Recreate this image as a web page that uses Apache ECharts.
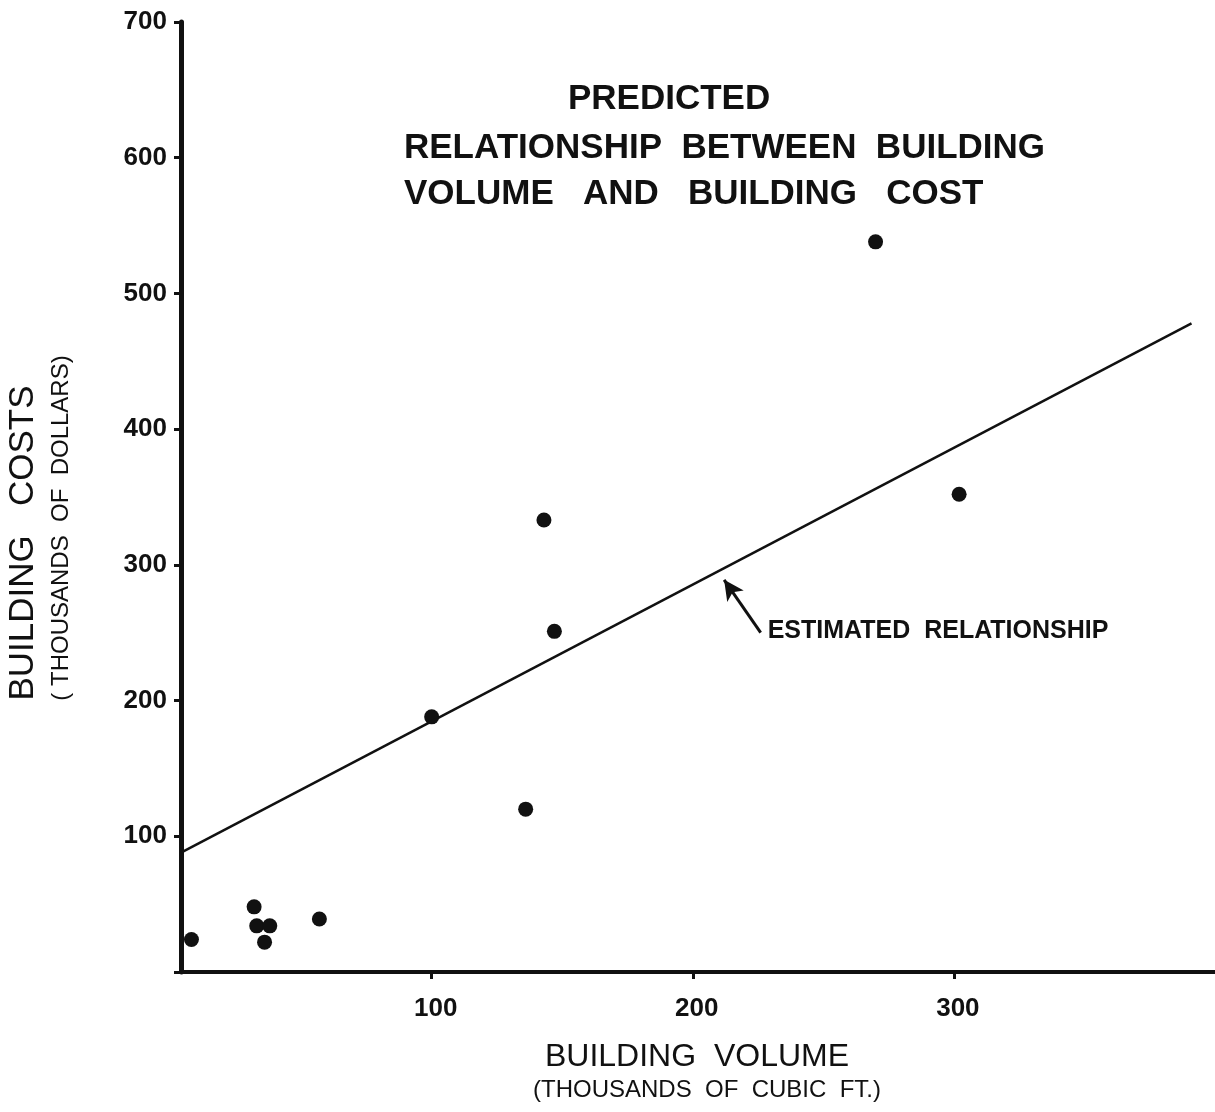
<!DOCTYPE html>
<html>
<head>
<meta charset="utf-8">
<script src="https://cdn.jsdelivr.net/npm/echarts@6/dist/echarts.min.js"></script>
<style>
html, body { margin: 0; padding: 0; background: #fff; }
#chart { width: 1215px; height: 1112px; }
</style>
</head>
<body>
<div id="chart"></div>
<script>
// building volume (thousands of cubic ft) vs building cost (thousands of dollars)
const volumes = [8, 32, 33, 36, 38, 57, 100, 136, 143, 147, 270, 302]
const costs = [24, 48, 34, 22, 34, 39, 188, 120, 333, 251, 538, 352]
// estimated relationship, end points
const fitX = [4, 391]
const fitY = [88, 478]
const xTicks = [100, 200, 300]
const yMin = 0, yMax = 700, yStep = 100
// where the arrow for the label points from / to (data units)
const arrowFrom = [226, 250]
const arrowTo = [212, 289]

const ink = '#111'
const font = 'Liberation Sans'

const points = volumes.map((v, i) => [v, costs[i]])
const fitLine = fitX.map((v, i) => [v, fitY[i]])

const myChart = echarts.init(document.getElementById('chart'))

const option = {
    backgroundColor: '#fff',
    animation: false,
    grid: { left: 181, right: 0, top: 22, bottom: 140 },
    xAxis: {
        type: 'value',
        min: 4,
        max: 400,
        axisLine: { lineStyle: { color: ink, width: 4 } },
        axisTick: { customValues: xTicks, length: 7, lineStyle: { color: ink, width: 3 } },
        axisLabel: {
            customValues: xTicks,
            margin: 24,
            padding: [0, 0, 0, 8],
            color: ink,
            fontFamily: font,
            fontWeight: 'bold',
            fontSize: 26,
        },
        splitLine: { show: false },
    },
    yAxis: {
        type: 'value',
        min: yMin,
        max: yMax,
        interval: yStep,
        axisLine: { show: true, lineStyle: { color: ink, width: 5 } },
        axisTick: { length: 7, lineStyle: { color: ink, width: 3 } },
        axisLabel: {
            margin: 14,
            color: ink,
            fontFamily: font,
            fontWeight: 'bold',
            fontSize: 26,
            formatter: (v) => (v === 0 ? '' : String(v)),
        },
        splitLine: { show: false },
    },
    series: [
        {
            type: 'line',
            data: fitLine,
            symbol: 'none',
            lineStyle: { color: ink, width: 2.5 },
            markLine: {
                silent: true,
                symbol: ['none', 'arrow'],
                symbolSize: [15, 20],
                lineStyle: { color: ink, width: 3, type: 'solid' },
                label: { show: false },
                data: [[{ coord: arrowFrom }, { coord: arrowTo }]],
            },
        },
        {
            type: 'scatter',
            data: points,
            symbolSize: 15,
            itemStyle: { color: ink, opacity: 1 },
        },
    ],
}
myChart.setOption(option)

const labelAt = myChart.convertToPixel({ gridIndex: 0 }, arrowFrom)
const txt = (x, y, text, size, extra) => ({
    type: 'text',
    x, y,
    style: Object.assign({
        text,
        fill: ink,
        font: 'bold ' + size + 'px "' + font + '"',
        textVerticalAlign: 'middle',
    }, extra || {}),
})
const plain = (size) => size + 'px "' + font + '"'

myChart.setOption({
    graphic: [
        txt(568, 99, 'PREDICTED', 35),
        txt(404, 148, 'RELATIONSHIP  BETWEEN  BUILDING', 35),
        txt(404, 194, 'VOLUME   AND   BUILDING   COST', 35),
        txt(labelAt[0] + 7, labelAt[1] - 2, 'ESTIMATED  RELATIONSHIP', 25),
        txt(697, 1057, 'BUILDING  VOLUME', 32, { align: 'center', font: plain(32) }),
        txt(707, 1090, '(THOUSANDS  OF  CUBIC  FT.)', 24, { align: 'center', font: plain(24) }),
        Object.assign(txt(0, 0, 'BUILDING   COSTS', 35, { align: 'center', font: plain(35) }),
            { x: 23, y: 543, rotation: Math.PI / 2 }),
        Object.assign(txt(0, 0, '( THOUSANDS  OF  DOLLARS)', 24, { align: 'center', font: plain(24) }),
            { x: 61, y: 528, rotation: Math.PI / 2 }),
    ],
})
</script>
</body>
</html>
